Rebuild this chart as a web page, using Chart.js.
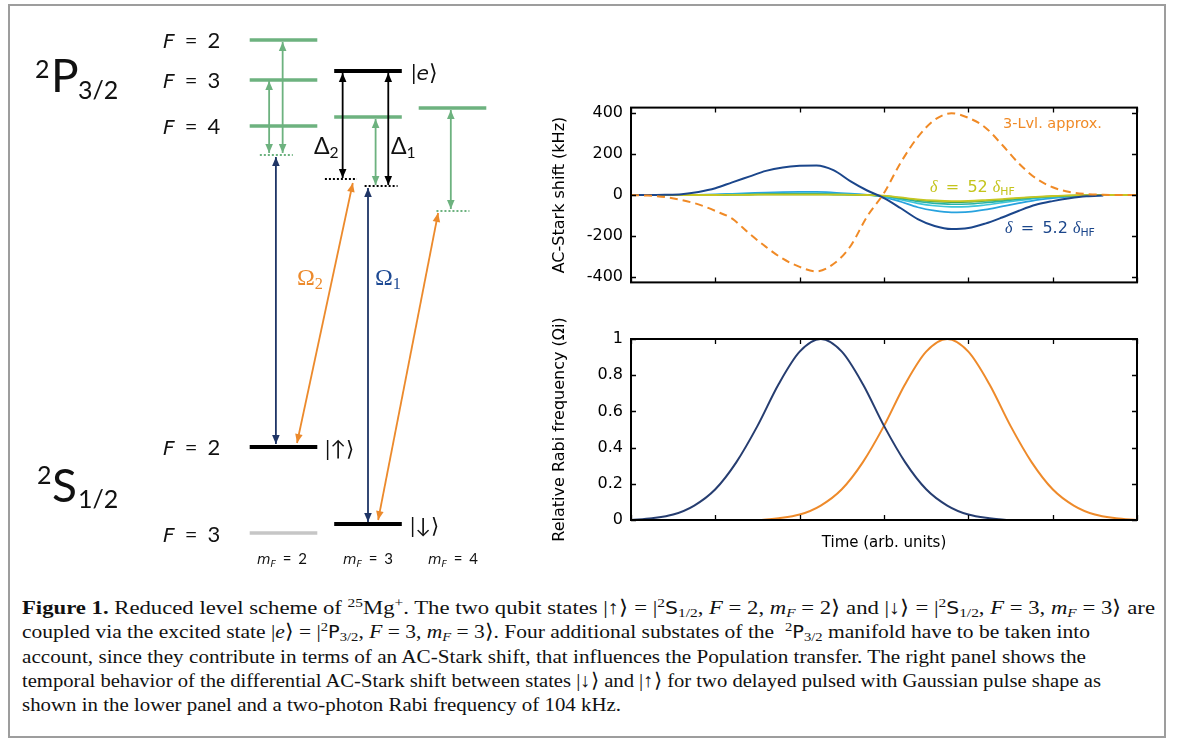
<!DOCTYPE html>
<html><head><meta charset="utf-8">
<script src="https://cdn.jsdelivr.net/npm/chart.js@4.4.1/dist/chart.umd.min.js"></script>
<style>
html,body{margin:0;padding:0;background:#fff;}
body{width:1182px;height:740px;position:relative;overflow:hidden;}
#frame{position:absolute;left:8px;top:4px;width:1158px;height:734px;box-sizing:border-box;border:2px solid #9d9d9d;}
.c{position:absolute;}
.t{position:absolute;white-space:nowrap;line-height:1;}
.t sub{font-size:0.68em;vertical-align:-0.25em;line-height:0;}
.t sup{font-size:0.68em;vertical-align:0.5em;line-height:0;}
.eq{margin:0 0.2em;}
.dg i{font-family:'DejaVu Sans',sans-serif;font-style:oblique;font-size:0.92em;}
.ss{font-family:'DejaVu Sans',sans-serif;font-size:0.9em;}
.cap{font-family:'Liberation Serif',serif;color:#111;}
</style></head><body>
<div id="frame"></div>
<div class="c" style="left:0;top:0;width:540px;height:580px"><canvas id="diag"></canvas></div>
<div class="c" style="left:540px;top:90px;width:620px;height:210px"><canvas id="top"></canvas></div>
<div class="c" style="left:540px;top:300px;width:620px;height:260px"><canvas id="bot"></canvas></div>
<script>
// ---------------- Data: AC-Stark shift panel ----------------
const shiftTimes = [0,0.2,0.4,0.6,0.8,1,1.2,1.4,1.6,1.8,2,2.2,2.4,2.6,2.8,3,3.2,3.4,3.6,3.8,4,4.2,4.4,4.6,4.8,5,5.2,5.4,5.6,5.8,6];
const shiftTicksY = [-400,-200,0,200,400];
const threeLevelShift = [0,-3,-10,-25,-46,-78,-116,-188,-254,-312,-352,-374,-338,-252,-105,10,160,283,368,400,378,331,246,154,82,38,15,5,1,0,0];
const shiftDelta5_2  = [0,0,1,4,15,33,62,90,118,135,143,145,122,68,22,-15,-65,-118,-152,-167,-162,-140,-110,-77,-48,-30,-16,-6,-2,null,null];
const shiftLightBlue = [0,0,0,0,1,3,6,9,12,14,15,15,12,7,1,-10,-33,-60,-77,-85,-83,-72,-56,-40,-25,-15,-8,-3,-1,0,0];
const shiftCyan      = [0,0,0,0,0,1,3,4,6,7,8,8,6,3,0,-7,-23,-41,-53,-58,-57,-49,-38,-27,-17,-10,-5,-2,0,0,0];
const shiftTeal      = [0,0,0,0,0,1,2,3,4,5,5,5,4,2,0,-5,-18,-32,-41,-45,-44,-38,-30,-21,-13,-8,-4,-1,0,0,0];
const shiftGreen     = [0,0,0,0,0,0,1,2,3,3,3,3,2,1,0,-4,-14,-25,-32,-35,-34,-29,-23,-16,-10,-6,-3,-1,0,0,0];
const shiftDelta52   = [0,0,0,0,0,0,1,1,2,2,2,2,2,1,0,-3,-12,-21,-27,-30,-29,-25,-20,-14,-9,-5,-2,-1,0,0,0];

// ---------------- Data: pulse panel ----------------
const pulseTimes = [0,0.25,0.5,0.75,1,1.25,1.5,1.75,2,2.25,2.5,2.75,3,3.25,3.5,3.75,4,4.25,4.5,4.75,5,5.25,5.5,5.75,6];
const pulseTicksY = [0,0.2,0.4,0.6,0.8,1];
const omega1 = [0,0.01,0.03,0.08,0.17,0.32,0.52,0.75,0.93,1,0.93,0.75,0.52,0.32,0.17,0.08,0.03,0.01,0,0,0,0,0,0,null];
const omega2 = [null,null,null,null,0,0,0,0.01,0.03,0.08,0.17,0.32,0.52,0.75,0.93,1,0.93,0.75,0.52,0.32,0.17,0.08,0.03,0.01,0];

// ---------------- Data: level scheme (columns = m_F, energy in arbitrary units) ----------------
const levelMF      = [2, 2, 2, 3, 3, 4, 2, 3, 2];
const levelEnergy  = [54.0, 50.0, 45.4, 50.9, 46.3, 47.2, 13.3, 5.6, 4.7];
const levelKind    = ['green','green','green','black','green','green','black','black','gray'];
const virtualFromMF = [1.72, 2.49, 2.96, 3.81];
const virtualToMF   = [2.11, 2.87, 3.35, 4.20];
const virtualEnergy = [42.5, 40.1, 39.4, 36.9];
const virtualKind   = ['green','black','black','green'];
const arrowFromMF = [1.99, 1.83, 1.91, 2.70, 3.24, 3.09, 3.00, 2.16, 3.12, 3.98];
const arrowFromE  = [53.8, 49.9, 42.3, 50.7, 50.7, 46.1, 39.2, 13.7, 6.0, 47.0];
const arrowToMF   = [1.99, 1.83, 1.91, 2.70, 3.24, 3.09, 3.00, 2.82, 3.83, 3.98];
const arrowToE    = [42.7, 42.7, 13.6, 40.2, 39.5, 39.5, 5.8, 39.7, 36.7, 37.1];
const arrowKind   = ['green','green','navy','black','black','green','navy','orange','orange','green'];

// ---------------- Styles ----------------
const COLORS = {green:'#6db27f', black:'#000000', gray:'#c6c6c6', navy:'#1f3566', orange:'#ec8a2c'};
const LEVEL_HALF = 0.4;
const SANS = "Lato, 'DejaVu Sans', sans-serif";
const SERIF = "'Liberation Serif', 'DejaVu Serif', serif";
const AXFONT = "'DejaVu Sans', 'Noto Sans', sans-serif";

function pts(xs, ys){ return xs.map((x,i)=>({x:x, y:ys[i]})); }

const framePlugin = {
  id:'frame',
  afterDatasetsDraw(chart){
    const {ctx, chartArea:a, scales:{x, y}} = chart;
    ctx.save();
    ctx.strokeStyle = '#000'; ctx.lineWidth = 1.3;
    const L = 5;
    ctx.beginPath();
    y.ticks.forEach(t=>{ const p = Math.round(y.getPixelForValue(t.value))+0.5;
      ctx.moveTo(a.left,p); ctx.lineTo(a.left+L,p); ctx.moveTo(a.right,p); ctx.lineTo(a.right-L,p); });
    x.ticks.forEach(t=>{ const p = Math.round(x.getPixelForValue(t.value))+0.5;
      ctx.moveTo(p,a.bottom); ctx.lineTo(p,a.bottom-L); ctx.moveTo(p,a.top); ctx.lineTo(p,a.top+L); });
    ctx.stroke();
    ctx.lineWidth = 2;
    ctx.strokeRect(a.left, a.top, a.right-a.left, a.bottom-a.top);
    ctx.restore();
  }
};

const baseOpts = (yMin, yMax, step, title, xTitle, padTop, xHeight, fmt) => ({
  responsive:true, maintainAspectRatio:false, animation:false, events:[],
  layout:{padding:{top:padTop, right:23, left:0, bottom:0}},
  elements:{point:{radius:0}, line:{cubicInterpolationMode:'monotone'}},
  plugins:{legend:{display:false}, tooltip:{enabled:false}},
  scales:{
    x:{type:'linear', min:0, max:6, ticks:{display:false, stepSize:1}, grid:{display:false}, border:{display:false},
       title:{display:!!xTitle, text:xTitle||'', color:'#000', font:{family:AXFONT, size:15}, padding:{top:0, bottom:8}},
       afterFit(s){ s.height = xHeight; }},
    y:{min:yMin, max:yMax, ticks:{stepSize:step, includeBounds:false, color:'#000', padding:8, font:{family:AXFONT, size:16}, callback:fmt},
       grid:{display:false, drawTicks:false}, border:{display:false},
       title:{display:true, text:title, color:'#000', font:{family:AXFONT, size:16}, padding:{top:10.4, bottom:0}},
       afterFit(s){ s.width = 91; }}
  }
});

new Chart(document.getElementById('top'), {
  type:'line',
  data:{datasets:[
    {data:pts(shiftTimes, threeLevelShift), borderColor:'#f08a26', borderWidth:2, borderDash:[8,5]},
    {data:pts(shiftTimes, shiftDelta5_2), borderColor:'#1b468b', borderWidth:2},
    {data:pts(shiftTimes, shiftDelta52), borderColor:'#c6c622', borderWidth:1.8},
    {data:pts(shiftTimes, shiftGreen), borderColor:'#4aaa48', borderWidth:1.6},
    {data:pts(shiftTimes, shiftTeal), borderColor:'#27b3a6', borderWidth:1.6},
    {data:pts(shiftTimes, shiftCyan), borderColor:'#3cc4da', borderWidth:1.6},
    {data:pts(shiftTimes, shiftLightBlue), borderColor:'#27a2de', borderWidth:1.8}
  ]},
  options: baseOpts(-428, 428, 200, 'AC-Stark shift (kHz)', null, 14, 12, v=>String(v)),
  plugins:[framePlugin]
});

new Chart(document.getElementById('bot'), {
  type:'line',
  data:{datasets:[
    {data:pts(pulseTimes, omega1), borderColor:'#263d70', borderWidth:2},
    {data:pts(pulseTimes, omega2), borderColor:'#ee8a2a', borderWidth:2}
  ]},
  options: baseOpts(0, 1, 0.2, 'Relative Rabi frequency (Ωi)', 'Time (arb. units)', 39, 40, v=>String(Math.round(v*10)/10)),
  plugins:[framePlugin]
});

// ---------------- Level scheme ----------------
function head(ctx, tx, ty, fx, fy, color){
  const ang = Math.atan2(ty-fy, tx-fx), len = 9, w = 3.8;
  const c = Math.cos(ang), s = Math.sin(ang);
  ctx.fillStyle = color; ctx.beginPath();
  ctx.moveTo(tx, ty);
  ctx.lineTo(tx - len*c + w*s, ty - len*s - w*c);
  ctx.lineTo(tx - len*c - w*s, ty - len*s + w*c);
  ctx.closePath(); ctx.fill();
}
const arrowPlugin = {
  id:'arrows',
  afterDatasetsDraw(chart){
    const ctx = chart.ctx; ctx.save();
    chart.data.datasets.forEach((ds,i)=>{
      if(!ds.arrowHeads) return;
      const d = chart.getDatasetMeta(i).data;
      head(ctx, d[1].x, d[1].y, d[0].x, d[0].y, ds.borderColor);
      head(ctx, d[0].x, d[0].y, d[1].x, d[1].y, ds.borderColor);
    });
    ctx.restore();
  }
};
const diagSets = [];
arrowKind.forEach((k,i)=>diagSets.push({
  data:[{x:arrowFromMF[i], y:arrowFromE[i]}, {x:arrowToMF[i], y:arrowToE[i]}],
  borderColor:COLORS[k], borderWidth:1.8, arrowHeads:true, order:0
}));
levelKind.forEach((k,i)=>diagSets.push({
  data:[{x:levelMF[i]-LEVEL_HALF, y:levelEnergy[i]}, {x:levelMF[i]+LEVEL_HALF, y:levelEnergy[i]}],
  borderColor:COLORS[k], borderWidth:k==='black'?4:3.5, order:1
}));
virtualKind.forEach((k,i)=>diagSets.push({
  data:[{x:virtualFromMF[i], y:virtualEnergy[i]}, {x:virtualToMF[i], y:virtualEnergy[i]}],
  borderColor:COLORS[k], borderWidth:2, borderDash:[2,2], order:1
}));
new Chart(document.getElementById('diag'), {
  type:'line',
  data:{datasets:diagSets},
  options:{
    responsive:true, maintainAspectRatio:false, animation:false, events:[],
    layout:{padding:0},
    elements:{point:{radius:0}, line:{tension:0}},
    plugins:{legend:{display:false}, tooltip:{enabled:false}},
    datasets:{line:{clip:false}},
    scales:{
      x:{type:'linear', display:false, min:-1.3550, max:5.0355},
      y:{type:'linear', display:false, min:0, max:58}
    }
  },
  plugins:[arrowPlugin]
});

// ---------------- Text ----------------
function label(html, x, base, size, family, color, cls){
  const d = document.createElement('div');
  d.className = 't' + (cls ? ' '+cls : '');
  d.style.left = x+'px'; d.style.top = '0px';
  d.style.fontSize = size+'px';
  if (family) d.style.fontFamily = family;
  d.style.color = color || '#111';
  d.innerHTML = html;
  const probe = document.createElement('span');
  probe.style.cssText = 'display:inline-block;width:0;height:0;vertical-align:baseline;';
  d.appendChild(probe);
  document.body.appendChild(d);
  const b = probe.getBoundingClientRect().bottom - d.getBoundingClientRect().top;
  d.style.top = (base - b) + 'px';
  return d;
}
const EQ = '<span class="eq">=</span>';
const diagLabels = [
  ['2', 35, 78, 25], ['P', 51, 92, 46], ['3/2', 78, 99, 25],
  ['2', 37, 484, 25], ['S', 52, 502, 46], ['1/2', 78, 508, 25],
  ['<i>F</i> '+EQ+' 2', 163, 47.5, 22], ['<i>F</i> '+EQ+' 3', 163, 87.5, 22], ['<i>F</i> '+EQ+' 4', 163, 134, 22],
  ['<i>F</i> '+EQ+' 2', 163, 455, 22], ['<i>F</i> '+EQ+' 3', 163, 541.5, 22],
  ['|<i>e</i>⟩', 411, 80, 22],
  ['Δ<sub>2</sub>', 314, 154, 23], ['Δ<sub>1</sub>', 391, 154, 23],
  ['|↑⟩', 325, 456, 21], ['|↓⟩', 410, 533, 21],
  ['<i>m</i><sub><i>F</i></sub> '+EQ+' 2', 257, 564, 15],
  ['<i>m</i><sub><i>F</i></sub> '+EQ+' 3', 343, 564, 15],
  ['<i>m</i><sub><i>F</i></sub> '+EQ+' 4', 428, 564, 15]
];
diagLabels.forEach(l=>label(l[0], l[1], l[2], l[3], SANS, '#111', 'dg'));
label('Ω<sub>2</sub>', 297, 285, 24, SERIF, COLORS.orange);
label('Ω<sub>1</sub>', 375, 285, 24, SERIF, '#1e4a94');

// chart annotations
label('3-Lvl. approx.', 1003, 128, 14.5, AXFONT, '#f08a26');
label('<i style="font-family:\'Liberation Serif\',serif">δ</i> '+EQ+' 52 <i style="font-family:\'Liberation Serif\',serif">δ</i><sub>HF</sub>', 930, 192, 16, AXFONT, '#c4c41c');
label('<i style="font-family:\'Liberation Serif\',serif">δ</i> '+EQ+' 5.2 <i style="font-family:\'Liberation Serif\',serif">δ</i><sub>HF</sub>', 1005, 233, 16, AXFONT, '#1b468b');

// caption
const captionLines = [
  '<b>Figure 1.</b> Reduced level scheme of <sup>25</sup>Mg<sup>+</sup>. The two qubit states |↑⟩ = |<sup>2</sup><span class="ss">S</span><sub>1/2</sub>, <i>F</i> = 2, <i>m</i><sub><i>F</i></sub> = 2⟩ and |↓⟩ = |<sup>2</sup><span class="ss">S</span><sub>1/2</sub>, <i>F</i> = 3, <i>m</i><sub><i>F</i></sub> = 3⟩ are',
  'coupled via the excited state |<i>e</i>⟩ = |<sup>2</sup><span class="ss">P</span><sub>3/2</sub>, <i>F</i> = 3, <i>m</i><sub><i>F</i></sub> = 3⟩. Four additional substates of the &nbsp;<sup>2</sup><span class="ss">P</span><sub>3/2</sub> manifold have to be taken into',
  'account, since they contribute in terms of an AC-Stark shift, that influences the Population transfer. The right panel shows the',
  'temporal behavior of the differential AC-Stark shift between states |↓⟩ and |↑⟩ for two delayed pulsed with Gaussian pulse shape as',
  'shown in the lower panel and a two-photon Rabi frequency of 104 kHz.'
];
const captionEnds = [1155, 1090, 1086, 1101, 621];
const captionBase = [614, 638.3, 662.5, 686.8, 711];
captionLines.forEach((h,i)=>{
  const d = label(h, 22, captionBase[i], 19.5, null, '#111', 'cap');
  const w = d.getBoundingClientRect().width;
  d.style.transformOrigin = '0 0';
  d.style.transform = 'scaleX(' + ((captionEnds[i]-22)/w) + ')';
});
</script>
</body></html>
